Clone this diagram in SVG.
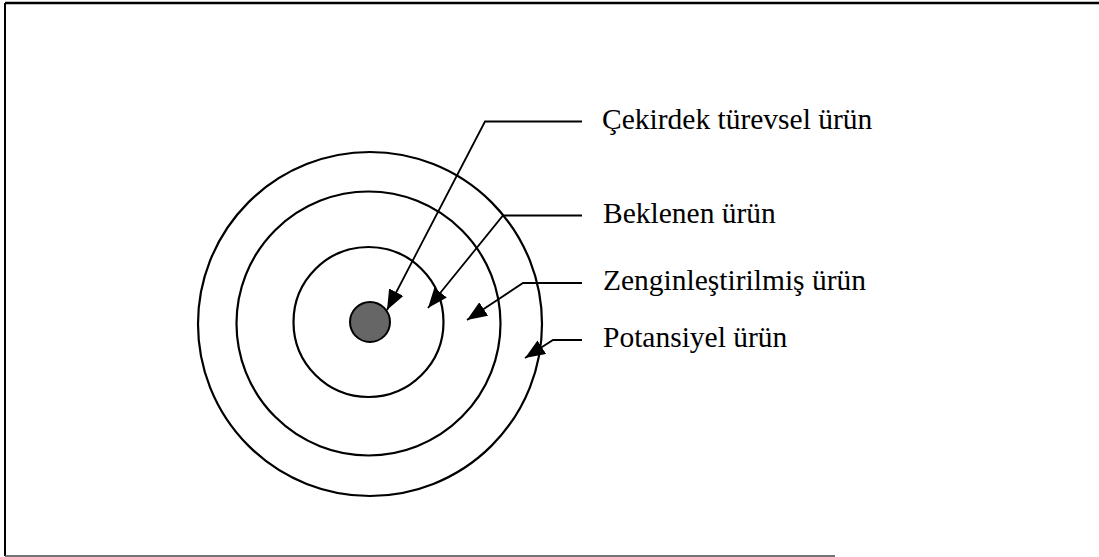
<svg xmlns="http://www.w3.org/2000/svg" width="1099" height="557" viewBox="0 0 1099 557">
  <style>
    .ring { fill: none; stroke: #000; stroke-width: 2.2; }
    .lbl { font-family: "Liberation Serif", "Times New Roman", serif; font-size: 29.5px; fill: #000; }
    .conn { fill: none; stroke: #000; stroke-width: 1.8; }
  </style>
  <defs>
    <marker id="arr" markerUnits="userSpaceOnUse" markerWidth="22" markerHeight="18" refX="20" refY="8" orient="auto">
      <path d="M0,0 L20,8 L0,16 z" fill="#000"/>
    </marker>
  </defs>
  <rect width="1099" height="557" fill="#fff"/>
  <g id="frame">
    <line x1="5" y1="3" x2="1099" y2="3" stroke="#000" stroke-width="2.5"/>
    <line x1="5" y1="3" x2="5" y2="556" stroke="#000" stroke-width="2"/>
    <line x1="5" y1="556" x2="835" y2="556" stroke="#444" stroke-width="1.5"/>
  </g>
  <g id="potansiyel">
    <circle class="ring" cx="370" cy="324" r="172"/>
    <text class="lbl" x="603" y="347">Potansiyel ürün</text>
  </g>
  <g id="zenginlestirilmis">
    <circle class="ring" cx="368.5" cy="323.5" r="132"/>
    <text class="lbl" x="603" y="290">Zenginleştirilmiş ürün</text>
  </g>
  <g id="beklenen">
    <circle class="ring" cx="368.5" cy="322" r="75"/>
    <text class="lbl" x="603" y="223">Beklenen ürün</text>
  </g>
  <g id="cekirdek">
    <circle cx="370" cy="322" r="20" fill="#666" stroke="#000" stroke-width="2"/>
    <text class="lbl" x="602" y="129">Çekirdek türevsel ürün</text>
  </g>
  <g id="connectors">
    <path class="conn" d="M582,121.5 H485 L387,310" marker-end="url(#arr)"/>
    <path class="conn" d="M582,215.5 H503 L428,308" marker-end="url(#arr)"/>
    <path class="conn" d="M582,283 H523 L467,320" marker-end="url(#arr)"/>
    <path class="conn" d="M582,340 H553 L525,358" marker-end="url(#arr)"/>
  </g>
</svg>
